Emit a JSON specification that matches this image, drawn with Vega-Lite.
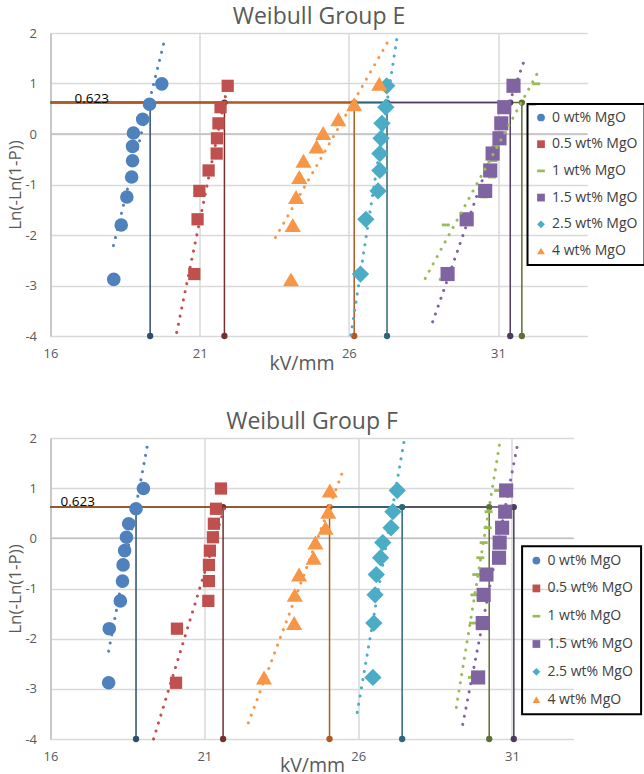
{
"$schema": "https://vega.github.io/schema/vega-lite/v6.json",
"padding": {"left": 6.5, "top": 6, "right": 0, "bottom": 0},
"config": {
 "font": "Open Sans",
 "view": {"stroke": null},
 "axis": {"labelColor": "#595959", "titleColor": "#595959", "labelFontSize": 13, "titleFontSize": 19.5, "titleFontWeight": "normal", "gridColor": "#d9d9d9", "gridWidth": 1.5, "ticks": false, "labelFlush": false},
 "title": {"fontSize": 23, "fontWeight": "normal", "color": "#595959", "anchor": "middle", "frame": "group", "baseline": "alphabetic", "offset": -2},
 "legend": {"labelFontSize": 14, "labelColor": "#404040", "symbolSize": 60, "strokeColor": "#000000", "strokeWidth": 2, "labelOffset": 4, "symbolStrokeWidth": 0}
},
"datasets": {
 "ptsE": [
  {"s": "0 wt% MgO", "x": 18.12, "y": -2.879}, {"s": "0 wt% MgO", "x": 18.37, "y": -1.801}, {"s": "0 wt% MgO", "x": 18.56, "y": -1.247}, {"s": "0 wt% MgO", "x": 18.72, "y": -0.852}, {"s": "0 wt% MgO", "x": 18.75, "y": -0.530}, {"s": "0 wt% MgO", "x": 18.75, "y": -0.246}, {"s": "0 wt% MgO", "x": 18.78, "y": 0.021}, {"s": "0 wt% MgO", "x": 19.09, "y": 0.291}, {"s": "0 wt% MgO", "x": 19.32, "y": 0.589}, {"s": "0 wt% MgO", "x": 19.73, "y": 0.993},
  {"s": "0.5 wt% MgO", "x": 20.82, "y": -2.773}, {"s": "0.5 wt% MgO", "x": 20.93, "y": -1.689}, {"s": "0.5 wt% MgO", "x": 20.99, "y": -1.127}, {"s": "0.5 wt% MgO", "x": 21.30, "y": -0.722}, {"s": "0.5 wt% MgO", "x": 21.57, "y": -0.387}, {"s": "0.5 wt% MgO", "x": 21.58, "y": -0.085}, {"s": "0.5 wt% MgO", "x": 21.63, "y": 0.211}, {"s": "0.5 wt% MgO", "x": 21.70, "y": 0.531}, {"s": "0.5 wt% MgO", "x": 21.94, "y": 0.954},
  {"s": "1 wt% MgO", "x": 29.15, "y": -2.879}, {"s": "1 wt% MgO", "x": 29.25, "y": -1.801}, {"s": "1 wt% MgO", "x": 30.55, "y": -1.247}, {"s": "1 wt% MgO", "x": 30.80, "y": -0.852}, {"s": "1 wt% MgO", "x": 30.85, "y": -0.530}, {"s": "1 wt% MgO", "x": 30.92, "y": -0.246}, {"s": "1 wt% MgO", "x": 31.05, "y": 0.021}, {"s": "1 wt% MgO", "x": 31.15, "y": 0.291}, {"s": "1 wt% MgO", "x": 32.15, "y": 0.589}, {"s": "1 wt% MgO", "x": 32.28, "y": 0.993},
  {"s": "1.5 wt% MgO", "x": 29.31, "y": -2.773}, {"s": "1.5 wt% MgO", "x": 29.95, "y": -1.689}, {"s": "1.5 wt% MgO", "x": 30.57, "y": -1.127}, {"s": "1.5 wt% MgO", "x": 30.74, "y": -0.722}, {"s": "1.5 wt% MgO", "x": 30.82, "y": -0.387}, {"s": "1.5 wt% MgO", "x": 31.05, "y": -0.085}, {"s": "1.5 wt% MgO", "x": 31.11, "y": 0.211}, {"s": "1.5 wt% MgO", "x": 31.21, "y": 0.531}, {"s": "1.5 wt% MgO", "x": 31.52, "y": 0.954},
  {"s": "2.5 wt% MgO", "x": 26.39, "y": -2.773}, {"s": "2.5 wt% MgO", "x": 26.57, "y": -1.689}, {"s": "2.5 wt% MgO", "x": 26.98, "y": -1.127}, {"s": "2.5 wt% MgO", "x": 27.04, "y": -0.722}, {"s": "2.5 wt% MgO", "x": 27.04, "y": -0.387}, {"s": "2.5 wt% MgO", "x": 27.08, "y": -0.085}, {"s": "2.5 wt% MgO", "x": 27.11, "y": 0.211}, {"s": "2.5 wt% MgO", "x": 27.24, "y": 0.531}, {"s": "2.5 wt% MgO", "x": 27.27, "y": 0.954},
  {"s": "4 wt% MgO", "x": 24.06, "y": -2.879}, {"s": "4 wt% MgO", "x": 24.12, "y": -1.801}, {"s": "4 wt% MgO", "x": 24.23, "y": -1.247}, {"s": "4 wt% MgO", "x": 24.34, "y": -0.852}, {"s": "4 wt% MgO", "x": 24.48, "y": -0.530}, {"s": "4 wt% MgO", "x": 24.92, "y": -0.246}, {"s": "4 wt% MgO", "x": 25.14, "y": 0.021}, {"s": "4 wt% MgO", "x": 25.65, "y": 0.291}, {"s": "4 wt% MgO", "x": 26.18, "y": 0.589}, {"s": "4 wt% MgO", "x": 27.02, "y": 0.993}
 ],
 "ptsF": [
  {"s": "0 wt% MgO", "x": 17.89, "y": -2.879}, {"s": "0 wt% MgO", "x": 17.91, "y": -1.801}, {"s": "0 wt% MgO", "x": 18.27, "y": -1.247}, {"s": "0 wt% MgO", "x": 18.34, "y": -0.852}, {"s": "0 wt% MgO", "x": 18.36, "y": -0.530}, {"s": "0 wt% MgO", "x": 18.41, "y": -0.246}, {"s": "0 wt% MgO", "x": 18.47, "y": 0.021}, {"s": "0 wt% MgO", "x": 18.54, "y": 0.291}, {"s": "0 wt% MgO", "x": 18.78, "y": 0.589}, {"s": "0 wt% MgO", "x": 19.02, "y": 0.993},
  {"s": "0.5 wt% MgO", "x": 20.08, "y": -2.879}, {"s": "0.5 wt% MgO", "x": 20.11, "y": -1.801}, {"s": "0.5 wt% MgO", "x": 21.13, "y": -1.247}, {"s": "0.5 wt% MgO", "x": 21.15, "y": -0.852}, {"s": "0.5 wt% MgO", "x": 21.15, "y": -0.530}, {"s": "0.5 wt% MgO", "x": 21.18, "y": -0.246}, {"s": "0.5 wt% MgO", "x": 21.28, "y": 0.021}, {"s": "0.5 wt% MgO", "x": 21.31, "y": 0.291}, {"s": "0.5 wt% MgO", "x": 21.38, "y": 0.589}, {"s": "0.5 wt% MgO", "x": 21.54, "y": 0.993},
  {"s": "1 wt% MgO", "x": 29.70, "y": -2.773}, {"s": "1 wt% MgO", "x": 29.73, "y": -1.689}, {"s": "1 wt% MgO", "x": 29.78, "y": -1.127}, {"s": "1 wt% MgO", "x": 29.84, "y": -0.722}, {"s": "1 wt% MgO", "x": 29.97, "y": -0.387}, {"s": "1 wt% MgO", "x": 30.08, "y": -0.085}, {"s": "1 wt% MgO", "x": 30.21, "y": 0.211}, {"s": "1 wt% MgO", "x": 30.24, "y": 0.531}, {"s": "1 wt% MgO", "x": 30.55, "y": 0.954},
  {"s": "1.5 wt% MgO", "x": 29.90, "y": -2.773}, {"s": "1.5 wt% MgO", "x": 30.05, "y": -1.689}, {"s": "1.5 wt% MgO", "x": 30.08, "y": -1.127}, {"s": "1.5 wt% MgO", "x": 30.17, "y": -0.722}, {"s": "1.5 wt% MgO", "x": 30.58, "y": -0.387}, {"s": "1.5 wt% MgO", "x": 30.60, "y": -0.085}, {"s": "1.5 wt% MgO", "x": 30.68, "y": 0.211}, {"s": "1.5 wt% MgO", "x": 30.78, "y": 0.531}, {"s": "1.5 wt% MgO", "x": 30.81, "y": 0.954},
  {"s": "2.5 wt% MgO", "x": 26.48, "y": -2.773}, {"s": "2.5 wt% MgO", "x": 26.51, "y": -1.689}, {"s": "2.5 wt% MgO", "x": 26.55, "y": -1.127}, {"s": "2.5 wt% MgO", "x": 26.59, "y": -0.722}, {"s": "2.5 wt% MgO", "x": 26.73, "y": -0.387}, {"s": "2.5 wt% MgO", "x": 26.80, "y": -0.085}, {"s": "2.5 wt% MgO", "x": 27.07, "y": 0.211}, {"s": "2.5 wt% MgO", "x": 27.13, "y": 0.531}, {"s": "2.5 wt% MgO", "x": 27.27, "y": 0.954},
  {"s": "4 wt% MgO", "x": 22.94, "y": -2.773}, {"s": "4 wt% MgO", "x": 23.92, "y": -1.689}, {"s": "4 wt% MgO", "x": 23.94, "y": -1.127}, {"s": "4 wt% MgO", "x": 24.08, "y": -0.722}, {"s": "4 wt% MgO", "x": 24.55, "y": -0.387}, {"s": "4 wt% MgO", "x": 24.61, "y": -0.085}, {"s": "4 wt% MgO", "x": 24.94, "y": 0.211}, {"s": "4 wt% MgO", "x": 25.03, "y": 0.531}, {"s": "4 wt% MgO", "x": 25.08, "y": 0.954}
 ],
 "trE": [
  {"k": "0 wt% MgO", "x": 18.11, "y": -2.21}, {"k": "0 wt% MgO", "x": 19.85, "y": 1.92},
  {"k": "0.5 wt% MgO", "x": 20.23, "y": -3.93}, {"k": "0.5 wt% MgO", "x": 21.91, "y": 0.88},
  {"k": "1 wt% MgO", "x": 28.56, "y": -2.86}, {"k": "1 wt% MgO", "x": 32.40, "y": 1.29},
  {"k": "1.5 wt% MgO", "x": 28.81, "y": -3.72}, {"k": "1.5 wt% MgO", "x": 31.93, "y": 1.54},
  {"k": "2.5 wt% MgO", "x": 26.07, "y": -3.98}, {"k": "2.5 wt% MgO", "x": 27.64, "y": 2.0},
  {"k": "4 wt% MgO", "x": 23.54, "y": -2.05}, {"k": "4 wt% MgO", "x": 27.39, "y": 1.91}
 ],
 "trF": [
  {"k": "0 wt% MgO", "x": 17.89, "y": -2.25}, {"k": "0 wt% MgO", "x": 19.18, "y": 1.95},
  {"k": "0.5 wt% MgO", "x": 19.35, "y": -4.0}, {"k": "0.5 wt% MgO", "x": 21.65, "y": 0.60},
  {"k": "1 wt% MgO", "x": 29.19, "y": -3.37}, {"k": "1 wt% MgO", "x": 30.63, "y": 2.0},
  {"k": "1.5 wt% MgO", "x": 29.40, "y": -3.71}, {"k": "1.5 wt% MgO", "x": 31.20, "y": 1.93},
  {"k": "2.5 wt% MgO", "x": 25.97, "y": -3.47}, {"k": "2.5 wt% MgO", "x": 27.51, "y": 2.0},
  {"k": "4 wt% MgO", "x": 22.43, "y": -3.68}, {"k": "4 wt% MgO", "x": 25.54, "y": 1.40}
 ],
 "dropE": [
  {"k": "0 wt% MgO drop", "o": 1, "x": 16, "y": 0.623}, {"k": "0 wt% MgO drop", "o": 2, "x": 19.34, "y": 0.623}, {"k": "0 wt% MgO drop", "o": 3, "x": 19.34, "y": -4},
  {"k": "0.5 wt% MgO drop", "o": 1, "x": 16, "y": 0.623}, {"k": "0.5 wt% MgO drop", "o": 2, "x": 21.83, "y": 0.623}, {"k": "0.5 wt% MgO drop", "o": 3, "x": 21.83, "y": -4},
  {"k": "1 wt% MgO drop", "o": 1, "x": 16, "y": 0.623}, {"k": "1 wt% MgO drop", "o": 2, "x": 31.80, "y": 0.623}, {"k": "1 wt% MgO drop", "o": 3, "x": 31.80, "y": -4},
  {"k": "1.5 wt% MgO drop", "o": 1, "x": 16, "y": 0.623}, {"k": "1.5 wt% MgO drop", "o": 2, "x": 31.41, "y": 0.623}, {"k": "1.5 wt% MgO drop", "o": 3, "x": 31.41, "y": -4},
  {"k": "2.5 wt% MgO drop", "o": 1, "x": 16, "y": 0.623}, {"k": "2.5 wt% MgO drop", "o": 2, "x": 27.28, "y": 0.623}, {"k": "2.5 wt% MgO drop", "o": 3, "x": 27.28, "y": -4},
  {"k": "4 wt% MgO drop", "o": 1, "x": 16, "y": 0.623}, {"k": "4 wt% MgO drop", "o": 2, "x": 26.18, "y": 0.623}, {"k": "4 wt% MgO drop", "o": 3, "x": 26.18, "y": -4}
 ],
 "dropF": [
  {"k": "0 wt% MgO drop", "o": 1, "x": 16, "y": 0.623}, {"k": "0 wt% MgO drop", "o": 2, "x": 18.78, "y": 0.623}, {"k": "0 wt% MgO drop", "o": 3, "x": 18.78, "y": -4},
  {"k": "0.5 wt% MgO drop", "o": 1, "x": 16, "y": 0.623}, {"k": "0.5 wt% MgO drop", "o": 2, "x": 21.61, "y": 0.623}, {"k": "0.5 wt% MgO drop", "o": 3, "x": 21.61, "y": -4},
  {"k": "1 wt% MgO drop", "o": 1, "x": 16, "y": 0.623}, {"k": "1 wt% MgO drop", "o": 2, "x": 30.26, "y": 0.623}, {"k": "1 wt% MgO drop", "o": 3, "x": 30.26, "y": -4},
  {"k": "1.5 wt% MgO drop", "o": 1, "x": 16, "y": 0.623}, {"k": "1.5 wt% MgO drop", "o": 2, "x": 31.06, "y": 0.623}, {"k": "1.5 wt% MgO drop", "o": 3, "x": 31.06, "y": -4},
  {"k": "2.5 wt% MgO drop", "o": 1, "x": 16, "y": 0.623}, {"k": "2.5 wt% MgO drop", "o": 2, "x": 27.43, "y": 0.623}, {"k": "2.5 wt% MgO drop", "o": 3, "x": 27.43, "y": -4},
  {"k": "4 wt% MgO drop", "o": 1, "x": 16, "y": 0.623}, {"k": "4 wt% MgO drop", "o": 2, "x": 25.07, "y": 0.623}, {"k": "4 wt% MgO drop", "o": 3, "x": 25.07, "y": -4}
 ],
 "lab": [{"x": 16, "y": 0.623, "label": "0.623"}]
},
"spacing": 38,
"resolve": {"legend": {"color": "independent", "shape": "independent"}},
"vconcat": [
 {
  "title": "Weibull Group E",
  "width": 537, "height": 303,
  "layer": [
   {"data": {"values": [{}]}, "mark": {"type": "rule", "color": "#bfbfbf", "strokeWidth": 1.5}, "encoding": {"y": {"datum": 0, "type": "quantitative", "scale": {"domain": [-4, 2], "nice": false, "zero": false}, "axis": {"values": [-4, -3, -2, -1, 0, 1, 2], "title": "Ln(-Ln(1-P))", "titleFontSize": 17, "grid": true, "domain": true, "domainColor": "#bfbfbf", "domainWidth": 1.5, "labelPadding": 14, "titlePadding": 0, "labelExpr": "datum.value + ''"}}}},
   {"data": {"name": "dropE"}, "mark": {"type": "line", "strokeWidth": 1.5}, "encoding": {
     "x": {"field": "x", "type": "quantitative", "scale": {"domain": [16, 34], "nice": false, "zero": false}, "axis": {"values": [16, 21, 26, 31], "title": "kV/mm", "grid": true, "domain": false, "labelPadding": 11, "titleBaseline": "alphabetic", "titleY": 33, "titleX": 251}},
     "y": {"field": "y", "type": "quantitative"},
     "stroke": {"field": "k", "type": "nominal", "scale": {"domain": ["0 wt% MgO", "0.5 wt% MgO", "1 wt% MgO", "1.5 wt% MgO", "2.5 wt% MgO", "4 wt% MgO", "0 wt% MgO drop", "0.5 wt% MgO drop", "1 wt% MgO drop", "1.5 wt% MgO drop", "2.5 wt% MgO drop", "4 wt% MgO drop"], "range": ["#4F81BD", "#C0504D", "#9BBB59", "#8064A2", "#4BACC6", "#F79646", "#2F4D71", "#73302E", "#5D7035", "#4D3C61", "#2D6777", "#B05A22"]}, "legend": null},
     "order": {"field": "o", "type": "quantitative"}}},
   {"data": {"name": "dropE"}, "transform": [{"filter": "datum.o >= 2"}], "mark": {"type": "point", "filled": true, "size": 40, "opacity": 1}, "encoding": {
     "x": {"field": "x", "type": "quantitative"}, "y": {"field": "y", "type": "quantitative"},
     "fill": {"field": "k", "type": "nominal", "scale": {"domain": ["0 wt% MgO drop", "0.5 wt% MgO drop", "1 wt% MgO drop", "1.5 wt% MgO drop", "2.5 wt% MgO drop", "4 wt% MgO drop"], "range": ["#2F4D71", "#73302E", "#5D7035", "#4D3C61", "#2D6777", "#B05A22"]}, "legend": null}}},
   {"data": {"name": "ptsE"}, "mark": {"type": "point", "filled": true, "opacity": 1}, "encoding": {
     "x": {"field": "x", "type": "quantitative"}, "y": {"field": "y", "type": "quantitative"},
     "color": {"field": "s", "type": "nominal", "scale": {"domain": ["0 wt% MgO", "0.5 wt% MgO", "1 wt% MgO", "1.5 wt% MgO", "2.5 wt% MgO", "4 wt% MgO"], "range": ["#4F81BD", "#C0504D", "#9BBB59", "#8064A2", "#4BACC6", "#F79646"]}, "legend": {"title": null, "orient": "none", "legendX": 477, "legendY": 71, "padding": 6.5, "rowPadding": 12.7}},
     "shape": {"field": "s", "type": "nominal", "scale": {"domain": ["0 wt% MgO", "0.5 wt% MgO", "1 wt% MgO", "1.5 wt% MgO", "2.5 wt% MgO", "4 wt% MgO"], "range": ["circle", "square", "M-1,-0.35H1V0.35H-1Z", "square", "diamond", "triangle-up"]}, "legend": {"title": null, "orient": "none", "legendX": 477, "legendY": 71, "padding": 6.5, "rowPadding": 12.7}},
     "size": {"field": "s", "type": "nominal", "scale": {"type": "ordinal", "domain": ["0 wt% MgO", "0.5 wt% MgO", "1 wt% MgO", "1.5 wt% MgO", "2.5 wt% MgO", "4 wt% MgO"], "range": [185, 150, 64, 200, 300, 260]}, "legend": null}}},
   {"data": {"name": "trE"}, "mark": {"type": "line", "strokeWidth": 3, "strokeCap": "round", "strokeDash": [0.1, 8.2]}, "encoding": {
     "x": {"field": "x", "type": "quantitative"}, "y": {"field": "y", "type": "quantitative"},
     "stroke": {"field": "k", "type": "nominal", "legend": null}}},
   {"data": {"name": "lab"}, "mark": {"type": "text", "align": "left", "baseline": "middle", "dx": 24, "dy": -4, "fontSize": 13.5, "color": "#000000"}, "encoding": {
     "x": {"field": "x", "type": "quantitative"}, "y": {"field": "y", "type": "quantitative"}, "text": {"field": "label"}}}
  ]
 },
 {
  "title": "Weibull Group F",
  "width": 523, "height": 301,
  "layer": [
   {"data": {"values": [{}]}, "mark": {"type": "rule", "color": "#bfbfbf", "strokeWidth": 1.5}, "encoding": {"y": {"datum": 0, "type": "quantitative", "scale": {"domain": [-4, 2], "nice": false, "zero": false}, "axis": {"values": [-4, -3, -2, -1, 0, 1, 2], "title": "Ln(-Ln(1-P))", "titleFontSize": 17, "grid": true, "domain": true, "domainColor": "#bfbfbf", "domainWidth": 1.5, "labelPadding": 14, "titlePadding": 0, "labelExpr": "datum.value + ''"}}}},
   {"data": {"name": "dropF"}, "mark": {"type": "line", "strokeWidth": 1.5}, "encoding": {
     "x": {"field": "x", "type": "quantitative", "scale": {"domain": [16, 33], "nice": false, "zero": false}, "axis": {"values": [16, 21, 26, 31], "title": "kV/mm", "grid": true, "domain": false, "labelPadding": 11, "titleBaseline": "alphabetic", "titleY": 32}},
     "y": {"field": "y", "type": "quantitative"},
     "stroke": {"field": "k", "type": "nominal", "scale": {"domain": ["0 wt% MgO", "0.5 wt% MgO", "1 wt% MgO", "1.5 wt% MgO", "2.5 wt% MgO", "4 wt% MgO", "0 wt% MgO drop", "0.5 wt% MgO drop", "1 wt% MgO drop", "1.5 wt% MgO drop", "2.5 wt% MgO drop", "4 wt% MgO drop"], "range": ["#4F81BD", "#C0504D", "#9BBB59", "#8064A2", "#4BACC6", "#F79646", "#2F4D71", "#73302E", "#5D7035", "#4D3C61", "#2D6777", "#B05A22"]}, "legend": null},
     "order": {"field": "o", "type": "quantitative"}}},
   {"data": {"name": "dropF"}, "transform": [{"filter": "datum.o >= 2"}], "mark": {"type": "point", "filled": true, "size": 40, "opacity": 1}, "encoding": {
     "x": {"field": "x", "type": "quantitative"}, "y": {"field": "y", "type": "quantitative"},
     "fill": {"field": "k", "type": "nominal", "scale": {"domain": ["0 wt% MgO drop", "0.5 wt% MgO drop", "1 wt% MgO drop", "1.5 wt% MgO drop", "2.5 wt% MgO drop", "4 wt% MgO drop"], "range": ["#2F4D71", "#73302E", "#5D7035", "#4D3C61", "#2D6777", "#B05A22"]}, "legend": null}}},
   {"data": {"name": "ptsF"}, "mark": {"type": "point", "filled": true, "opacity": 1}, "encoding": {
     "x": {"field": "x", "type": "quantitative"}, "y": {"field": "y", "type": "quantitative"},
     "color": {"field": "s", "type": "nominal", "scale": {"domain": ["0 wt% MgO", "0.5 wt% MgO", "1 wt% MgO", "1.5 wt% MgO", "2.5 wt% MgO", "4 wt% MgO"], "range": ["#4F81BD", "#C0504D", "#9BBB59", "#8064A2", "#4BACC6", "#F79646"]}, "legend": {"title": null, "orient": "none", "legendX": 471.6, "legendY": 108.3, "padding": 7.3, "rowPadding": 13.8}},
     "shape": {"field": "s", "type": "nominal", "scale": {"domain": ["0 wt% MgO", "0.5 wt% MgO", "1 wt% MgO", "1.5 wt% MgO", "2.5 wt% MgO", "4 wt% MgO"], "range": ["circle", "square", "M-1,-0.35H1V0.35H-1Z", "square", "diamond", "triangle-up"]}, "legend": {"title": null, "orient": "none", "legendX": 471.6, "legendY": 108.3, "padding": 7.3, "rowPadding": 13.8}},
     "size": {"field": "s", "type": "nominal", "scale": {"type": "ordinal", "domain": ["0 wt% MgO", "0.5 wt% MgO", "1 wt% MgO", "1.5 wt% MgO", "2.5 wt% MgO", "4 wt% MgO"], "range": [185, 165, 64, 200, 300, 260]}, "legend": null}}},
   {"data": {"name": "trF"}, "mark": {"type": "line", "strokeWidth": 3, "strokeCap": "round", "strokeDash": [0.1, 8.2]}, "encoding": {
     "x": {"field": "x", "type": "quantitative"}, "y": {"field": "y", "type": "quantitative"},
     "stroke": {"field": "k", "type": "nominal", "legend": null}}},
   {"data": {"name": "lab"}, "mark": {"type": "text", "align": "left", "baseline": "middle", "dx": 10, "dy": -5, "fontSize": 13.5, "color": "#000000"}, "encoding": {
     "x": {"field": "x", "type": "quantitative"}, "y": {"field": "y", "type": "quantitative"}, "text": {"field": "label"}}}
  ]
 }
]
}
